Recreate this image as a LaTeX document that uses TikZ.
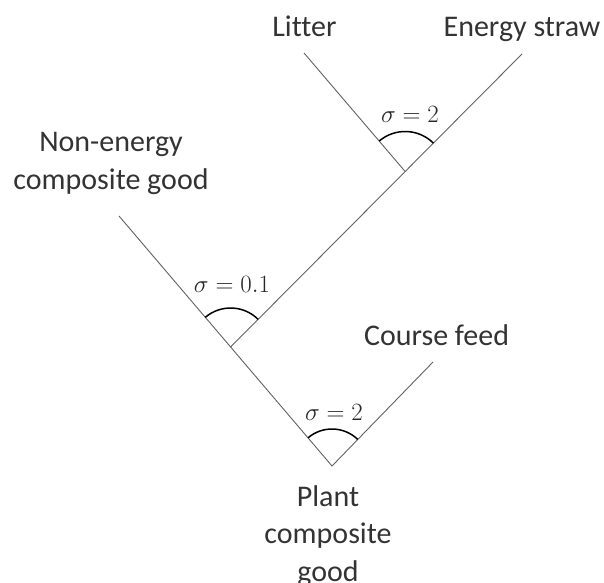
\documentclass[tikz,border=0pt]{standalone}
\usepackage{fontspec}
\setmainfont{Carlito}[Ligatures=CommonOff]
\usetikzlibrary{calc,angles}
\tikzset{
  lbl/.style={inner sep=0pt, text=black!80, font=\fontsize{30}{37.5}\selectfont, align=center},
  sig/.style={inner sep=0pt, text=black!85, font=\fontsize{24}{28}\selectfont},
  branch/.style={draw=black!62, line width=0.9pt},
  arcmark/.style={draw=black, line width=1.5pt}
}
\begin{document}
\begin{tikzpicture}[x=1pt,y=1pt]
\useasboundingbox (0,0) rectangle (604,582);
% end points and junctions
\coordinate (root) at (332,116);
\coordinate (ne) at (119,366);
\coordinate (cf) at (433,220);
\coordinate (es) at (522,528);
\coordinate (lit) at (304,529);
\coordinate (j1) at ($(root)!0.476!(ne)$);
\coordinate (j2) at ($(j1)!0.599!(es)$);
% branches
\draw[branch] (ne) -- (root) -- (cf);
\draw[branch] (j1) -- (es);
\draw[branch] (j2) -- (lit);
% elasticity arcs
\pic[arcmark, angle radius=37pt] {angle = cf--root--ne};
\pic[arcmark, angle radius=39pt] {angle = es--j1--ne};
\pic[arcmark, angle radius=40pt] {angle = es--j2--lit};
% labels
\node[lbl, anchor=base] (tlit) at (304.5,545) {Litter};
\node[lbl, anchor=base] (tes) at (522,545) {Energy straw};
\node[lbl, anchor=base] (tne) at (111,393) {Non-energy\\composite good};
\node[lbl, anchor=base] (tcf) at (436.5,237) {Course feed};
\node[lbl, anchor=base] (tpc) at (328,1) {Plant\\composite\\good};
\node[sig, anchor=base] (s1) at (410,459) {$\sigma = 2$};
\node[sig, anchor=base] (s2) at (232,290) {$\sigma = 0.1$};
\node[sig, anchor=base] (s3) at (334,162) {$\sigma = 2$};
\end{tikzpicture}
\end{document}
